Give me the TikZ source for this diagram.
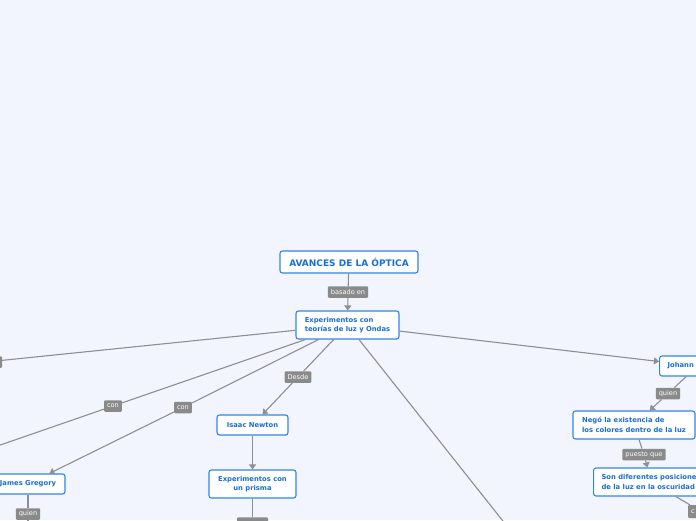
\documentclass[tikz,border=0pt]{standalone}
\usepackage{fontspec}
\setmainfont{DejaVu Sans}
\usetikzlibrary{arrows.meta}
\definecolor{bg}{HTML}{F2F5FE}
\definecolor{nodeblue}{HTML}{2F86E8}
\definecolor{txtblue}{HTML}{1A6ED4}
\definecolor{lblgray}{HTML}{8A8A8A}
\definecolor{linegray}{HTML}{8E8E94}
\begin{document}
\begin{tikzpicture}[x=1pt,y=-1pt,
  concept/.style={draw=nodeblue, line width=1.1pt, fill=white, rounded corners=2.5pt,
    text=txtblue, font=\fontsize{6.8}{9.5}\selectfont\bfseries, inner xsep=8pt, inner ysep=2pt,
    minimum height=20pt},
  lbl/.style={fill=lblgray, rounded corners=1pt, text=white,
    font=\fontsize{6.6}{7}\selectfont, inner xsep=3pt, inner ysep=0pt, minimum height=11.5pt},
  conn/.style={draw=linegray, line width=1.1pt},
  arr/.style={conn, -{Triangle[length=5pt,width=7pt]}}]
\fill[bg] (0,0) rectangle (696,520);
\useasboundingbox (0,0) rectangle (696,520);
\clip (0,0) rectangle (696,520);

% concepts
\node[concept, font=\fontsize{9}{10}\selectfont\bfseries, minimum width=138pt, minimum height=22pt] (root) at (349,262) {AVANCES DE LA ÓPTICA};
\node[concept, align=left, minimum width=103pt, minimum height=28pt] (exp) at (347.5,325) {Experimentos con\\teorías de luz y Ondas};
\node[concept, minimum width=71pt] (newton) at (252.5,425) {Isaac Newton};
\node[concept, align=center, minimum width=87pt, minimum height=28pt] (prisma) at (252.5,484) {Experimentos con\\un prisma};
\node[concept, minimum width=74pt] (gregory) at (28,484) {James Gregory};
\node[concept, anchor=west, text width=60pt, align=left] (johann) at (659,366) {Johann};
\node[concept, align=left, minimum width=122pt, minimum height=28pt] (nego) at (634,425) {Negó la existencia de\\los colores dentro de la luz};
\node[concept, anchor=west, align=left, minimum height=28pt] (son) at (593,482) {Son diferentes posiciones\\de la luz en la oscuridad};

% labels
\node[lbl] (l0) at (348,292) {basado en};
\node[lbl, minimum width=32pt] (lleft) at (-14,362) {};
\node[lbl] (lcon1) at (113,406) {con};
\node[lbl] (lcon2) at (183,407.5) {con};
\node[lbl] (ldesde) at (298,377) {Desde};
\node[lbl] (lquienG) at (28,514) {quien};
\node[lbl, minimum width=31pt] (lprisma) at (252.5,523) {};
\node[lbl] (lquienJ) at (668,393.5) {quien};
\node[lbl] (lpuesto) at (644,454.5) {puesto que};
\node[lbl, anchor=west, text width=20pt, align=left, minimum height=13pt] (lson) at (688,511.5) {c};

% off-picture ends
\coordinate (offL) at (-80,370.5);
\coordinate (offC1) at (-80,472.8);
\coordinate (offLong) at (560,593);
\coordinate (offG) at (28,560);
\coordinate (offP) at (252.5,560);
\coordinate (offS) at (740,540);

% connectors
\draw[arr] (root) -- (l0) -- (exp);
\draw[conn] (exp) -- (lleft) -- (offL);
\draw[arr] (exp) -- (lcon1) -- (offC1);
\draw[arr] (exp) -- (lcon2) -- (gregory);
\draw[arr] (exp) -- (ldesde) -- (newton);
\draw[conn] (exp) -- (offLong);
\draw[arr] (exp) -- (johann);
\draw[arr] (newton) -- (prisma);
\draw[conn] (prisma) -- (lprisma) -- (offP);
\draw[conn] (gregory) -- (lquienG) -- (offG);
\draw[arr] (johann) -- (lquienJ) -- (nego);
\draw[arr] (nego) -- (lpuesto) -- (son);
\draw[conn] (son) -- (lson) -- (offS);
\end{tikzpicture}
\end{document}
